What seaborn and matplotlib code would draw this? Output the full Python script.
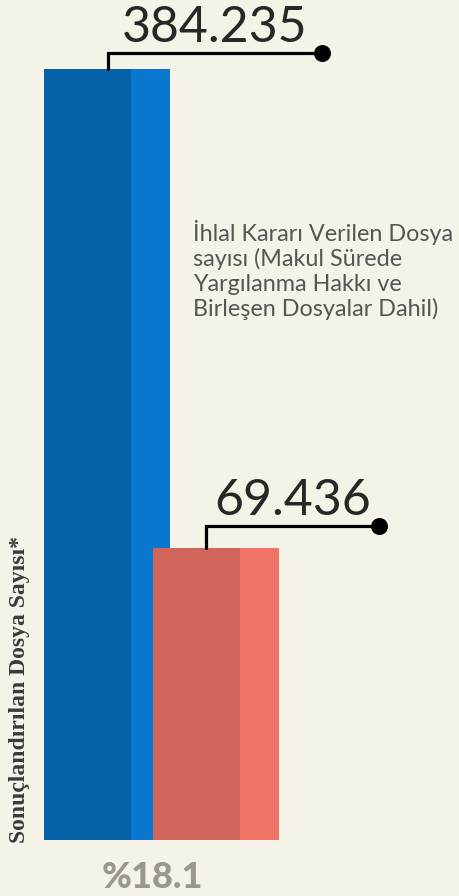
import matplotlib
matplotlib.use("Agg")
import matplotlib.pyplot as plt
import pandas as pd
import seaborn as sns

# data
categories = ["Sonuçlandırılan Dosya Sayısı", "İhlal Kararı Verilen Dosya Sayısı"]
values = [384235, 69436]
value_labels = ["384.235", "69.436"]
# bar heights as drawn in the picture (the chart is not to scale)
drawn_heights = [384235, 145500]
share_label = "%18.1"
side_label = "Sonuçlandırılan Dosya Sayısı*"
legend_text = "İhlal Kararı Verilen Dosya\nsayısı (Makul Sürede\nYargılanma Hakkı ve\nBirleşen Dosyalar Dahil)"

light_colors = ["#0a77cf", "#f07566"]
dark_colors = ["#0561a8", "#d06559"]
bg = "#f5f2e7"

sns.set_theme(style="white")
plt.rcParams["font.family"] = ["Lato", "DejaVu Sans"]

W, H, DPI = 459, 896, 100
fig = plt.figure(figsize=(W / DPI, H / DPI), dpi=DPI, facecolor=bg)
ax = fig.add_axes([0, 0, 1, 1])
ax.set_facecolor(bg)

# pixel layout -> data scale
px_per_cat = 109.0
x0_px = 107.0          # centre of first bar
base_px = 840.0        # bar baseline from top
px_per_val = 771.0 / values[0]

def dx(px):
    return px / px_per_cat

def dy(px):
    return px / px_per_val

width = 1.165
df = pd.DataFrame({"cat": categories, "h": drawn_heights})
sns.barplot(data=df, x="cat", y="h", hue="cat", palette=light_colors,
            width=width, legend=False, ax=ax, saturation=1, linewidth=0)

dark_frac = 0.69
for i, h in enumerate(drawn_heights):
    ax.bar(i - width / 2, h, width=width * dark_frac, align="edge",
           color=dark_colors[i], linewidth=0, zorder=3 + i)
# blue light, blue dark, then red light, red dark
ax.patches[0].set_zorder(2)
ax.patches[2].set_zorder(3)
ax.patches[1].set_zorder(4)
ax.patches[3].set_zorder(5)

# connector lines with dots and the numbers
conn = [(0.01, 16, 214), (-0.09, 22, 173)]
for i, (off, rise, run) in enumerate(conn):
    xs = i + off
    ytop = drawn_heights[i]
    yline = ytop + dy(rise)
    xe = xs + dx(run)
    ax.plot([xs, xs, xe], [ytop, yline, yline], color="black", lw=2.3,
            solid_joinstyle="miter", zorder=6)
    ax.scatter([xe], [yline], s=150, color="black", zorder=7, linewidths=0)
    ax.text((xs + xe) / 2, yline + dy(11), value_labels[i], ha="center",
            va="baseline", fontsize=36, fontweight="normal", color="#2a2627")

ax.text(dx(193 - x0_px), dy(base_px - 270), legend_text, ha="left", va="center",
        fontsize=16.8, color="#555555", linespacing=1.2)

ax.text(dx(152 - x0_px), dy(base_px - 888), share_label, ha="center", va="baseline",
        fontsize=26, fontweight="black", color="#9a9690")

ax.text(dx(20 - x0_px), dy(base_px - 843), side_label, rotation=90, ha="center",
        va="bottom", fontsize=17, fontweight="bold", color="#3a3a3a",
        family=["Liberation Serif", "DejaVu Serif"])

ax.set_xlim(-x0_px / px_per_cat, (W - x0_px) / px_per_cat)
ax.set_ylim(-(H - base_px) / px_per_val, base_px / px_per_val)
ax.axis("off")
fig.savefig("out.png", dpi=DPI, facecolor=bg)
